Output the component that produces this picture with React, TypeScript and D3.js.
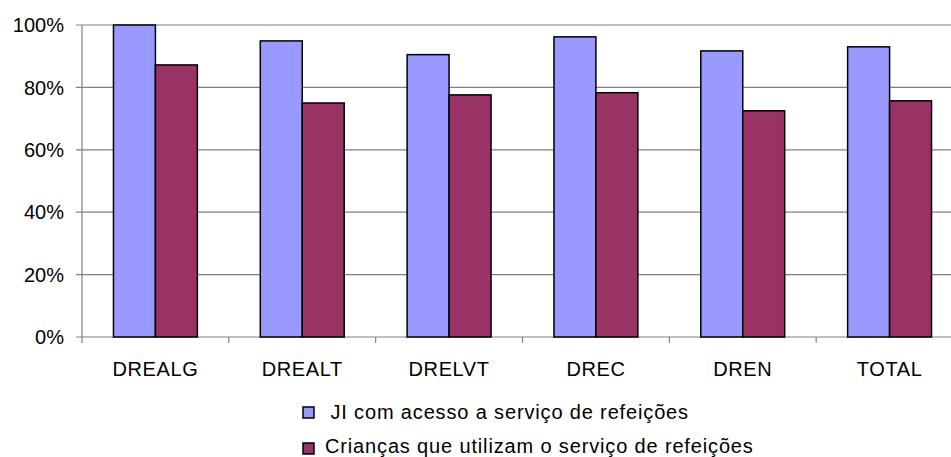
import * as d3 from "d3";

const categories = ["DREALG", "DREALT", "DRELVT", "DREC", "DREN", "TOTAL"];
const seriesNames = [
  " JI com acesso a serviço de refeições",
  "Crianças que utilizam o serviço de refeições",
];
const jiValues = [100, 94.9, 90.5, 96.2, 91.7, 93.0];
const criancasValues = [87.2, 75.0, 77.6, 78.3, 72.5, 75.7];
const yTicks = [0, 20, 40, 60, 80, 100];
const colors = ["#9999FF", "#993366"];

const W = 951;
const H = 457;
const left = 82;
const right = 963;
const top = 25;
const bottom = 337;
const font = "'Liberation Sans', Arial, sans-serif";

export default function App() {
  const x = d3.scaleBand<string>().domain(categories).range([left, right]).padding(0);
  const y = d3.scaleLinear().domain([0, 100]).range([bottom, top]);
  const series = [jiValues, criancasValues];
  // Excel style: 150% gap width
  const groupW = x.bandwidth() * (2 / 3.5);
  const inner = d3
    .scaleBand<number>()
    .domain([0, 1])
    .range([(x.bandwidth() - groupW) / 2, (x.bandwidth() + groupW) / 2]);

  return (
    <svg
      width={W}
      height={H}
      viewBox={`0 0 ${W} ${H}`}
      style={{ position: "absolute", left: 0, top: 0, background: "#fff" }}
      fontFamily={font}
    >
      {yTicks.map((t) => (
        <g key={t}>
          <line x1={left - 6} x2={W} y1={y(t)} y2={y(t)} stroke="#808080" strokeWidth={1.2} />
          <text x={64} y={y(t)} dy="0.36em" textAnchor="end" fontSize={20} fill="#000">
            {t}%
          </text>
        </g>
      ))}
      <line x1={left} x2={left} y1={top} y2={bottom} stroke="#808080" strokeWidth={1.2} />
      {categories.map((c) => (
        <line
          key={c}
          x1={x(c)!}
          x2={x(c)!}
          y1={bottom}
          y2={bottom + 6}
          stroke="#808080"
          strokeWidth={1.2}
        />
      ))}
      {series.map((vals, s) =>
        categories.map((c, i) => (
          <rect
            key={`${s}-${c}`}
            x={x(c)! + inner(s)!}
            y={y(vals[i])}
            width={inner.bandwidth()}
            height={bottom - y(vals[i])}
            fill={colors[s]}
            stroke="#000"
            strokeWidth={1.5}
          />
        ))
      )}
      {categories.map((c) => (
        <text
          key={c}
          x={x(c)! + x.bandwidth() / 2}
          y={376}
          textAnchor="middle"
          fontSize={20}
          letterSpacing={0.6}
          fill="#000"
        >
          {c}
        </text>
      ))}
      {seriesNames.map((n, s) => (
        <g key={n}>
          <rect
            x={303}
            y={407 + s * 36}
            width={11}
            height={11}
            fill={colors[s]}
            stroke="#000"
            strokeWidth={1.5}
          />
          <text
            x={s === 0 ? 324 : 325}
            y={419 + s * 34}
            fontSize={20}
            letterSpacing={0.85}
            fill="#000"
            style={{ whiteSpace: "pre" }}
          >
            {n}
          </text>
        </g>
      ))}
    </svg>
  );
}
